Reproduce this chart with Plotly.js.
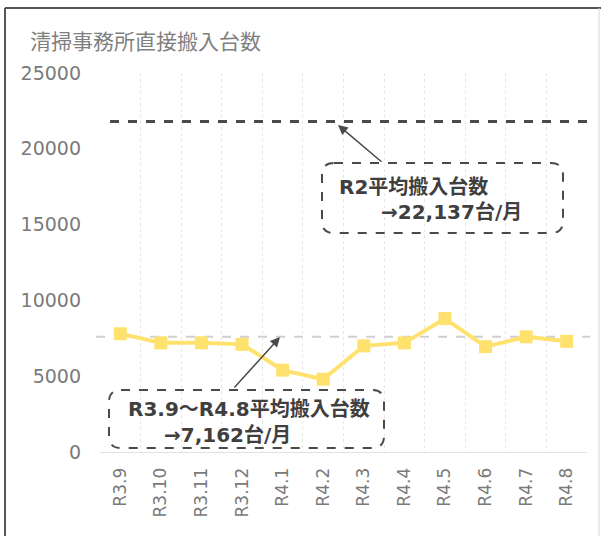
<!DOCTYPE html>
<html>
<head>
<meta charset="utf-8">
<script src="https://cdn.plot.ly/plotly-3.0.1.min.js"></script>
<style>html,body{margin:0;padding:0;background:#fff;}#chart{width:603px;height:536px;}</style>
</head>
<body>
<div id="chart"></div>
<script>
// ---- data ----
const categories = ['R3.9','R3.10','R3.11','R3.12','R4.1','R4.2','R4.3','R4.4','R4.5','R4.6','R4.7','R4.8'];
const counts = [7800, 7200, 7200, 7100, 5400, 4800, 7000, 7200, 8800, 6950, 7600, 7300];
const r2AverageLine = [21800];      // dark dashed reference line (as drawn)
const periodAverageLine = [7600];   // light dashed average line (as drawn)
const yTicks = [0, 5000, 10000, 15000, 20000, 25000];
const titleText = '清掃事務所直接搬入台数';
const r2Label = ['<b>R2平均搬入台数</b>', '<b>→22,137台/月</b>'];
const periodLabel = ['<b>R3.9～R4.8平均搬入台数</b>', '<b>→7,162台/月</b>'];

// ---- layout helpers ----
const W = 603, H = 536;
const M = {l: 100, r: 16, t: 73, b: 84};
const pw = W - M.l - M.r, ph = H - M.t - M.b;
const px = x => (x - M.l) / pw;
const py = y => (M.t + ph - y) / ph;

function roundRect(x0, y0, x1, y1, r) {
  const P = (x, y) => px(x) + ',' + py(y);
  return 'M' + P(x0 + r, y0) + ' L' + P(x1 - r, y0) + ' Q' + P(x1, y0) + ' ' + P(x1, y0 + r) +
         ' L' + P(x1, y1 - r) + ' Q' + P(x1, y1) + ' ' + P(x1 - r, y1) +
         ' L' + P(x0 + r, y1) + ' Q' + P(x0, y1) + ' ' + P(x0, y1 - r) +
         ' L' + P(x0, y0 + r) + ' Q' + P(x0, y0) + ' ' + P(x0 + r, y0) + ' Z';
}

const textColor = '#3f3f3f';
const annFont = {family: 'DejaVu Sans, Noto Sans CJK JP', size: 20, color: textColor};

const trace = {
  x: categories,
  y: counts,
  type: 'scatter',
  mode: 'lines+markers',
  line: {color: '#FFE26E', width: 4},
  marker: {symbol: 'square', size: 13, color: '#FFE26E'},
  hoverinfo: 'x+y'
};

const shapes = [
  {type: 'line', xref: 'paper', yref: 'y', x0: px(96), x1: px(590), y0: periodAverageLine[0], y1: periodAverageLine[0],
   line: {color: '#cfcfcf', width: 2, dash: 'dash'}, layer: 'below'},
  {type: 'line', xref: 'paper', yref: 'y', x0: px(110), x1: px(588), y0: r2AverageLine[0], y1: r2AverageLine[0],
   line: {color: '#4a4a4a', width: 3, dash: 'dash'}},
  {type: 'path', xref: 'paper', yref: 'paper', path: roundRect(322, 163, 563, 233, 12),
   line: {color: '#4a4a4a', width: 2, dash: 'dash'}, fillcolor: 'rgba(255,255,255,0)'},
  {type: 'path', xref: 'paper', yref: 'paper', path: roundRect(109, 390, 384, 448, 12),
   line: {color: '#4a4a4a', width: 2, dash: 'dash'}, fillcolor: 'rgba(255,255,255,0)'},
  {type: 'line', xref: 'paper', yref: 'paper', x0: px(5), x1: px(601), y0: py(8), y1: py(8), line: {color: '#555', width: 2}},
  {type: 'line', xref: 'paper', yref: 'paper', x0: px(5), x1: px(5), y0: py(8), y1: py(540), line: {color: '#555', width: 2}},
  {type: 'line', xref: 'paper', yref: 'paper', x0: px(599), x1: px(599), y0: py(8), y1: py(540), line: {color: '#d6d6d6', width: 1}}
];

const annotations = [
  {xref: 'paper', yref: 'paper', x: px(337), y: py(187), xanchor: 'left', yanchor: 'middle', text: r2Label[0], showarrow: false, font: annFont},
  {xref: 'paper', yref: 'paper', x: px(379), y: py(212), xanchor: 'left', yanchor: 'middle', text: r2Label[1], showarrow: false, font: annFont},
  {xref: 'paper', yref: 'paper', x: px(126), y: py(409), xanchor: 'left', yanchor: 'middle', text: periodLabel[0], showarrow: false, font: annFont},
  {xref: 'paper', yref: 'paper', x: px(162), y: py(435), xanchor: 'left', yanchor: 'middle', text: periodLabel[1], showarrow: false, font: annFont},
  {xref: 'paper', yref: 'paper', x: px(338), y: py(125), text: '', showarrow: true, arrowhead: 2, arrowsize: 1.3, arrowwidth: 1.5,
   arrowcolor: '#4a4a4a', ax: 383 - 338, ay: 163 - 125},
  {xref: 'paper', yref: 'paper', x: px(280), y: py(337), text: '', showarrow: true, arrowhead: 2, arrowsize: 1.3, arrowwidth: 1.5,
   arrowcolor: '#4a4a4a', ax: 233 - 280, ay: 389 - 337}
];

const layout = {
  width: W, height: H,
  margin: M,
  paper_bgcolor: '#ffffff',
  plot_bgcolor: '#ffffff',
  showlegend: false,
  font: {family: 'DejaVu Sans', color: '#7a7a7a'},
  title: {
    text: titleText,
    xref: 'container', yref: 'container',
    x: 30 / W, xanchor: 'left',
    y: 1 - 42 / H, yanchor: 'middle',
    font: {family: 'Noto Sans CJK JP', size: 21, color: '#7f7f7f'}
  },
  xaxis: {
    type: 'category',
    tickson: 'boundaries',
    showgrid: true,
    gridcolor: '#e6e6e6',
    griddash: 'dot',
    gridwidth: 1,
    ticks: '',
    tickangle: -90,
    tickfont: {family: 'DejaVu Sans', size: 17, color: '#7a7a7a'},
    ticklabelstandoff: 8,
    showline: true,
    linecolor: '#e2e2e2',
    linewidth: 1,
    zeroline: false,
    range: [-0.5, categories.length - 0.5]
  },
  yaxis: {
    range: [0, 25000],
    tickvals: yTicks,
    ticktext: yTicks.map(String),
    showgrid: false,
    zeroline: false,
    showline: false,
    ticks: '',
    ticklabelstandoff: 18,
    tickfont: {family: 'DejaVu Sans', size: 19, color: '#7a7a7a'}
  },
  shapes: shapes,
  annotations: annotations
};

Plotly.newPlot('chart', [trace], layout, {displayModeBar: false, staticPlot: true});
</script>
</body>
</html>
